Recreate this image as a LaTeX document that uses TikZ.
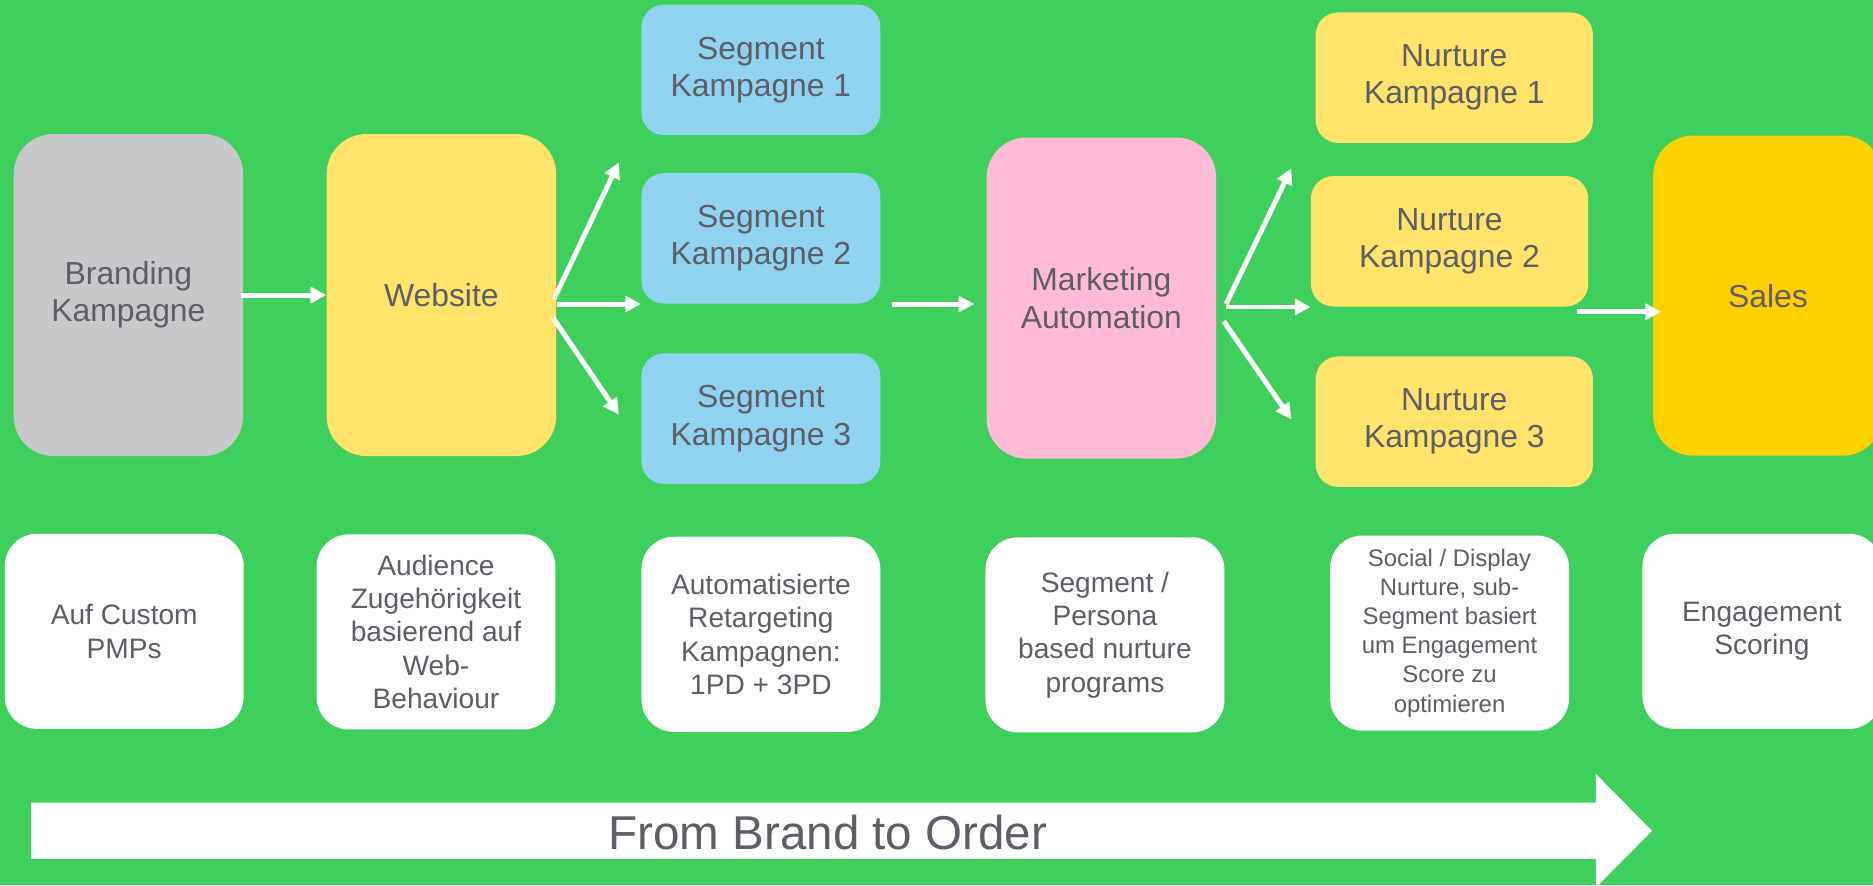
\documentclass[tikz,border=0pt]{standalone}
\usepackage{fontspec}
\setmainfont{Liberation Sans}
\usetikzlibrary{arrows.meta,calc}

\definecolor{bggreen}{RGB}{63,207,92}
\definecolor{boxgray}{RGB}{199,200,202}
\definecolor{boxyellow}{RGB}{255,227,107}
\definecolor{boxblue}{RGB}{143,211,240}
\definecolor{boxpink}{RGB}{255,187,214}
\definecolor{boxgold}{RGB}{255,208,0}
\definecolor{textgray}{RGB}{94,94,102}

\tikzset{
  stage/.style={rounded corners=16pt, minimum width=92.2pt, minimum height=129.4pt,
    inner sep=0pt, align=center, text=textgray, font=\fontsize{12.8}{15}\selectfont},
  campaign/.style={rounded corners=9pt, minimum height=52.4pt,
    inner sep=0pt, align=center, text=textgray, font=\fontsize{12.8}{15}\selectfont},
  note/.style={fill=white, rounded corners=13pt, minimum width=96pt, minimum height=78.4pt,
    inner sep=0pt, align=center, text=textgray, font=\fontsize{11.3}{13.4}\selectfont},
  flow/.style={draw=white, line width=2pt, -{Triangle[length=6.3pt,width=6.4pt]}},
}

\begin{document}
\begin{tikzpicture}[x=0.48pt,y=0.48pt,yscale=-1,xscale=1]
\useasboundingbox (0,0) rectangle (1568,741);
\clip (0,0) rectangle (1568,741);
\fill[bggreen] (0,0) rectangle (1568,741);

% Stages
\node[stage, fill=boxgray] (brand) at (107.5,247) {Branding\\Kampagne};
\node[stage, fill=boxyellow] (web) at (369.5,247) {Website};
\node[stage, fill=boxpink, minimum height=129pt] (ma) at (922,249.5) {Marketing\\Automation};
\node[stage, fill=boxgold, minimum height=128.6pt] (sales) at (1480,247.5) {Sales};

% Segment campaigns
\node[campaign, fill=boxblue, minimum width=96pt] (seg1) at (637,58.5) {Segment\\Kampagne 1};
\node[campaign, fill=boxblue, minimum width=96pt] (seg2) at (637,199.5) {Segment\\Kampagne 2};
\node[campaign, fill=boxblue, minimum width=96pt] (seg3) at (637,350.5) {Segment\\Kampagne 3};

% Nurture campaigns
\node[campaign, fill=boxyellow, minimum width=111.4pt] (nur1) at (1217.5,65) {Nurture\\Kampagne 1};
\node[campaign, fill=boxyellow, minimum width=111.4pt] (nur2) at (1213.5,202) {Nurture\\Kampagne 2};
\node[campaign, fill=boxyellow, minimum width=111.4pt] (nur3) at (1217.5,353) {Nurture\\Kampagne 3};

% Notes below each stage
\node[note] (pmp) at (104,528.5) {Auf Custom\\PMPs};
\node[note] (audience) at (365,529) {Audience\\Zugehörigkeit\\basierend auf\\Web-\\Behaviour};
\node[note] (retarget) at (637,531) {Automatisierte\\Retargeting\\Kampagnen:\\1PD + 3PD};
\node[note] (persona) at (925,531.5) {Segment /\\Persona\\based nurture\\programs};
\node[note, font=\fontsize{9.6}{11.7}\selectfont] (social) at (1213.5,530) {Social / Display\\Nurture, sub-\\Segment basiert\\um Engagement\\Score zu\\optimieren};
\node[note] (scoring) at (1475,528.5) {Engagement\\Scoring};

% free arrow ends
\coordinate (segup) at (518,136);
\coordinate (segdown) at (518,347);
\coordinate (nurup) at (1081,141);
\coordinate (nurdown) at (1081,351);

%Straight Lines
\draw[flow] ($(brand.east)+(-2,0)$) -- (web.west);
\draw[flow] ($(web.east)+(-2,3)$) -- (segup);
\draw[flow] (web.east |- seg2.south) -- (seg2.south west);
\draw[flow] ($(web.east)+(-3,19)$) -- (segdown);
\draw[flow, shorten <=4.3pt, shorten >=4.8pt] (seg2.south east) -- (seg2.south east -| ma.west);
\draw[flow] ($(ma.east)+(8,5)$) -- (nurup);
\draw[flow] ($(ma.east |- nur2.south west)+(8,0)$) -- (nur2.south west);
\draw[flow] ($(ma.east)+(6,19.5)$) -- (nurdown);
\draw[flow] ($(nur2.south east)+(-10,4)$) -- ($(sales.west |- nur2.south east)+(7,4)$);

%Shape: Big Arrow
\fill[white] (26,672) -- (1336,672) -- (1336,648) -- (1383,695.5) -- (1336,743) -- (1336,719) -- (26,719) -- cycle;
% Text Node
\node[text=textgray, font=\fontsize{19.1}{22}\selectfont, inner sep=0pt] (motto) at (693,697) {From Brand to Order};
\end{tikzpicture}
\end{document}
